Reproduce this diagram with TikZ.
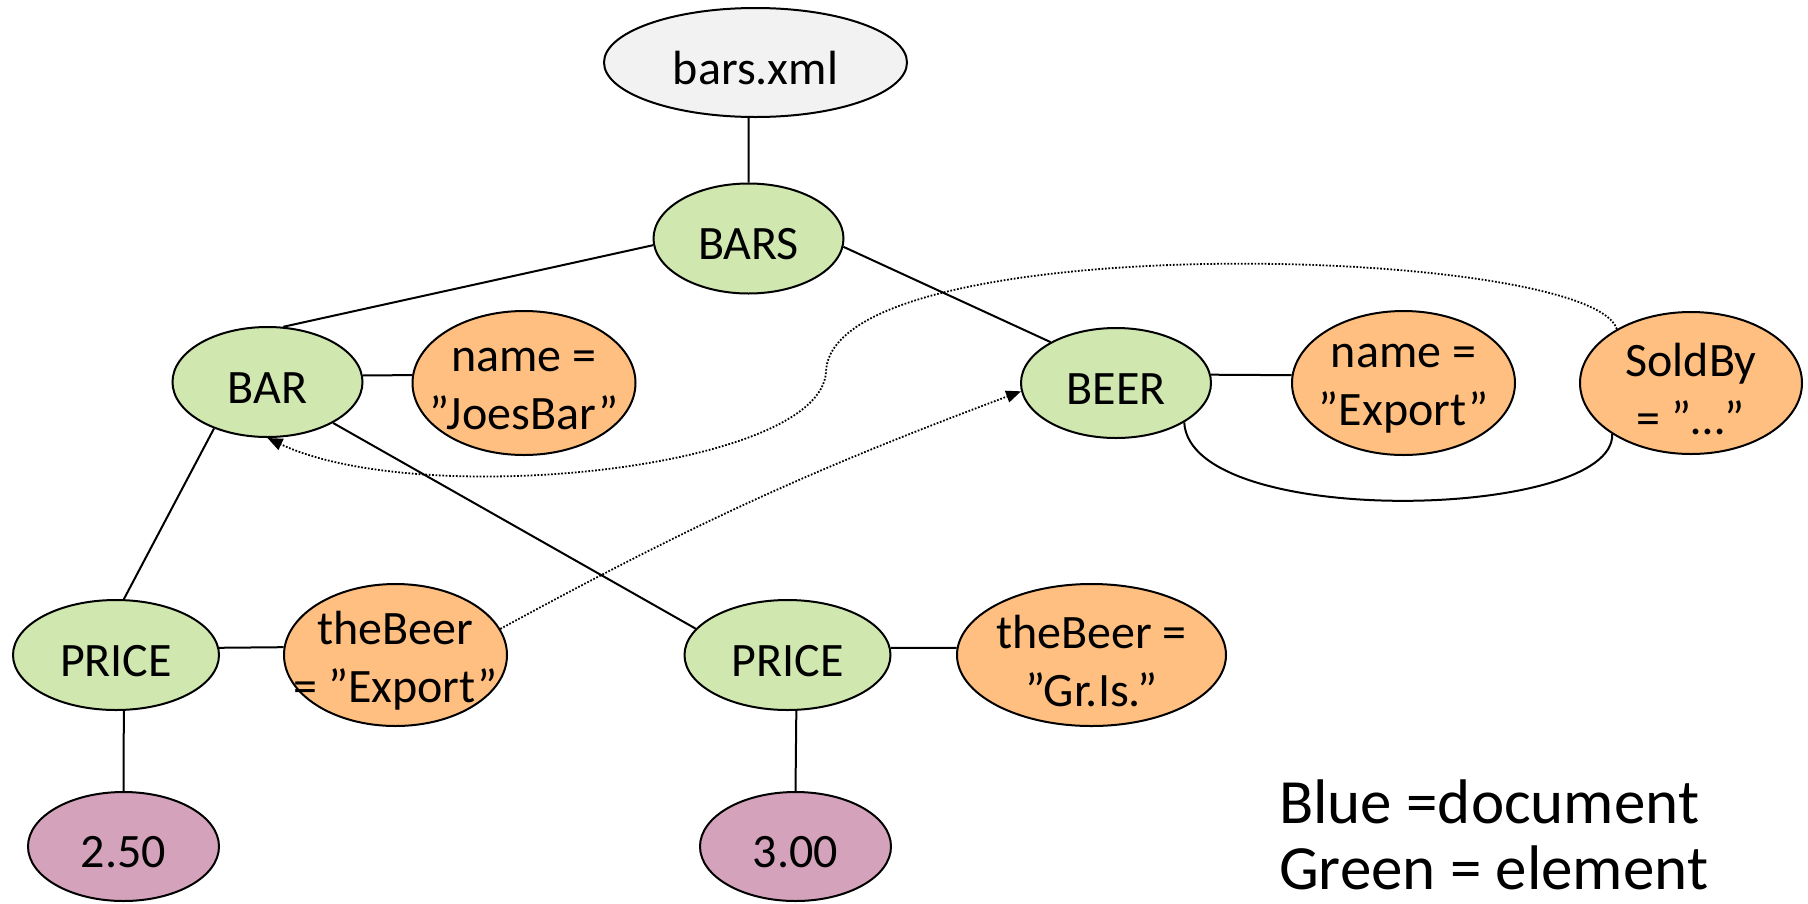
\documentclass[tikz,border=0pt]{standalone}
\usepackage{fontspec}
\setmainfont{Carlito}
\usetikzlibrary{shapes.geometric,arrows.meta}

\definecolor{docgray}{RGB}{242,242,242}
\definecolor{elemgreen}{RGB}{208,232,176}
\definecolor{attrorange}{RGB}{255,191,128}
\definecolor{textpink}{RGB}{213,162,188}

\tikzset{
  blob/.style={ellipse, draw=black, line width=2pt, inner sep=0pt},
  docnode/.style={blob, fill=docgray},
  elemnode/.style={blob, fill=elemgreen},
  attrnode/.style={blob, fill=attrorange},
  textnode/.style={blob, fill=textpink},
  small/.style={minimum width=190pt, minimum height=110pt},
  wide/.style={minimum width=206pt, minimum height=110pt},
  attrsize/.style={minimum width=223pt, minimum height=144pt},
  lbl/.style={font=\fontsize{48}{58}\selectfont, align=center, inner sep=0pt, yshift=-6pt},
  edge/.style={line width=2pt},
  ref/.style={line width=1.8pt, dash pattern=on 1.7pt off 1.7pt,
              -{Triangle[length=15pt,width=12pt]}},
  legend/.style={font=\fontsize{63}{69}\selectfont, anchor=base west, inner sep=0pt},
}

% ellipse with its caption centred on it (caption may overhang the outline)
\newcommand\bubble[4]{%
  \node[#1] (#2) at (#3) {};
  \node[lbl] (#2-t) at (#2.center) {#4};}

\begin{document}
\begin{tikzpicture}[x=1pt,y=-1pt]
\useasboundingbox (0,0) rectangle (1808,903);

% document root and elements
\bubble{docnode, minimum width=303pt, minimum height=109pt}{xml}{755.5,62.5}{bars.xml}
\bubble{elemnode, small}{bars}{748.5,238.5}{BARS}
\bubble{elemnode, small}{bar}{267.5,382}{BAR}
\bubble{elemnode, small}{beer}{1116,383}{BEER}
\bubble{elemnode, wide}{p1}{116,655}{PRICE}
\bubble{elemnode, wide}{p2}{787.5,655}{PRICE}

% attributes
\bubble{attrnode, attrsize}{n1}{524,383}{name =\\”JoesBar”}
\bubble{attrnode, attrsize}{n2}{1403.5,383}{name =\\”Export”}
\bubble{attrnode, minimum width=222pt, minimum height=142pt}{sold}{1691,383}{SoldBy\\= ”…”}
\bubble{attrnode, minimum width=223pt, minimum height=142pt}{tb1}{395.5,655}{theBeer\\= ”Export”}
\bubble{attrnode, minimum width=269pt, minimum height=142pt}{tb2}{1091.5,655}{theBeer =\\”Gr.Is.”}

% text values
\bubble{textnode, minimum width=191pt, minimum height=109pt}{v1}{123.5,846.5}{2.50}
\bubble{textnode, minimum width=191pt, minimum height=109pt}{v2}{795.5,846.5}{3.00}

% tree edges
\draw[edge] (xml.-97) -- (bars.north);
\draw[edge] (bars.184) -- (bar.74);
\draw[edge] (bars.-5) -- (beer.148);
\draw[edge] (bar.4) -- (n1.176);
\draw[edge] (beer.5) -- (n2.176);
\draw[edge] (beer.-30) .. controls (1190,530) and (1615,520) .. (sold.213);
\draw[edge] (bar.221) -- (p1.82);
\draw[edge] (bar.-32) -- (p2.164);
\draw[edge] (p1.4) -- (tb1.176);
\draw[edge] (p2.4) -- (tb2.177);
\draw[edge] (p1.-82) -- (v1.north);
\draw[edge] (p2.-81) -- (v2.north);

% references (IDREFs)
\coordinate (turn) at (826,372);
\draw[ref] (sold.144) .. controls (1590,245) and (830,225) .. (turn)
           .. controls (820,470) and (420,510) .. (bar.south);
\draw[ref] (tb1.14) to[bend left=4] (beer.185);

% legend
\node[legend] (leg1) at (1279,823) {Blue =document};
\node[legend] (leg2) at (1279,889) {Green = element};
\end{tikzpicture}
\end{document}
